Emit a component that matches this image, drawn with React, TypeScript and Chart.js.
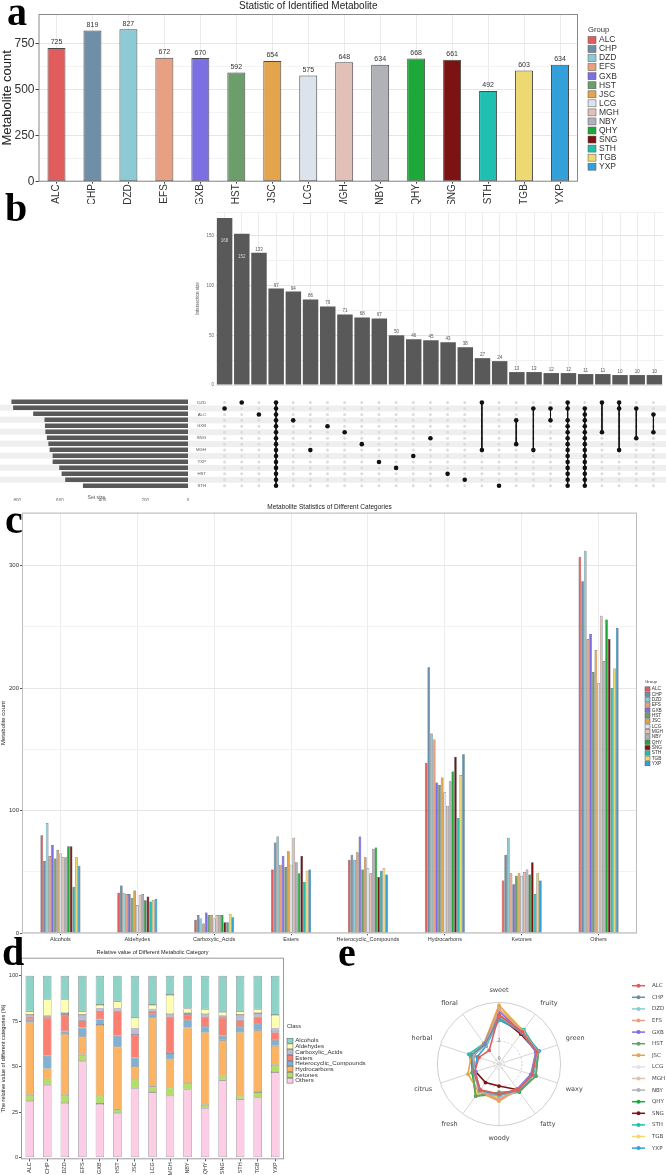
import React, { useEffect, useRef } from 'react';
import { Chart, registerables } from 'chart.js';

Chart.register(...registerables);

const SANS = "'Liberation Sans', Arial, Helvetica, sans-serif";
const DEJAVU = "'DejaVu Sans', 'Liberation Sans', sans-serif";

// ---------- panel a ----------
const groups = ['ALC', 'CHP', 'DZD', 'EFS', 'GXB', 'HST', 'JSC', 'LCG', 'MGH', 'NBY', 'QHY', 'SNG', 'STH', 'TGB', 'YXP'];
const groupColors = ['#e15d5d', '#6f8fa8', '#8ccbd6', '#e8a083', '#7b6fe3', '#6b9e6b', '#e3a44c', '#dde3ec', '#e0c0b7', '#b1b1b8', '#1fa83a', '#7d1212', '#1fc0b1', '#eed872', '#33a0da'];
const metaboliteCounts = [725, 819, 827, 672, 670, 592, 654, 575, 648, 634, 668, 661, 492, 603, 634];

// ---------- panel b ----------
const setOrder = ['DZD', 'CHP', 'ALC', 'EFS', 'GXB', 'QHY', 'SNG', 'JSC', 'MGH', 'NBY', 'YXP', 'TGB', 'HST', 'LCG', 'STH'];
const setSizes = [827, 819, 725, 672, 670, 668, 661, 654, 648, 634, 634, 603, 592, 575, 492];
const intersectionSizes = [168, 152, 133, 97, 94, 86, 79, 71, 68, 67, 50, 46, 45, 43, 38, 27, 24, 13, 13, 12, 12, 11, 11, 10, 10, 10];
const allSets = setOrder;
const intersectionMembers: string[][] = [
  ['CHP'], ['DZD'], ['ALC'], allSets, ['EFS'], ['MGH'], ['GXB'], ['QHY'], ['JSC'], ['YXP'],
  ['TGB'], ['NBY'], ['SNG'], ['HST'], ['LCG'], ['DZD', 'MGH'], ['STH'], ['EFS', 'JSC'], ['CHP', 'MGH'], ['CHP', 'EFS'],
  allSets.filter((s) => s !== 'ALC'), allSets.filter((s) => s !== 'DZD'), ['DZD', 'QHY'], ['DZD', 'CHP', 'MGH'], ['CHP', 'SNG'], ['ALC', 'QHY'],
];

// ---------- panel c ----------
const categories = ['Alcohols', 'Aldehydes', 'Carboxylic_Acids', 'Esters', 'Heterocyclic_Compounds', 'Hydrocarbons', 'Ketones', 'Others'];
const alcohols = [80, 59, 90, 63, 72, 61, 68, 65, 62, 62, 71, 71, 38, 62, 55];
const aldehydes = [33, 39, 33, 32, 32, 29, 35, 23, 31, 32, 27, 30, 26, 27, 28];
const carboxylicAcids = [11, 15, 12, 8, 17, 15, 15, 12, 15, 15, 15, 9, 9, 16, 13];
const esters = [52, 74, 79, 56, 63, 54, 67, 56, 78, 58, 49, 63, 42, 51, 52];
const heterocyclic = [60, 64, 60, 66, 79, 52, 62, 53, 49, 69, 70, 46, 51, 53, 48];
const hydrocarbons = [139, 217, 163, 158, 123, 121, 127, 115, 104, 124, 132, 144, 94, 129, 146];
const ketones = [43, 64, 78, 49, 40, 47, 49, 47, 50, 52, 48, 58, 32, 49, 43];
const others = [307, 287, 312, 240, 244, 213, 231, 204, 259, 222, 256, 240, 200, 216, 249];
const categoryCounts = [alcohols, aldehydes, carboxylicAcids, esters, heterocyclic, hydrocarbons, ketones, others];

// ---------- panel d ----------
const classNames = ['Alcohols', 'Aldehydes', 'Carboxylic_Acids', 'Esters', 'Heterocyclic_Compounds', 'Hydrocarbons', 'Ketones', 'Others'];
const classColors = ['#8dd3c7', '#ffffb3', '#bebada', '#fb8072', '#80b1d3', '#fdb462', '#b3de69', '#fccde5'];
const pctAlcohols = [19.5, 13, 13, 19.5, 16, 14, 23, 16, 10.5, 18, 18.5, 20, 19.5, 18.5, 21.5];
const pctAldehydes = [2, 9, 7.5, 2, 2, 4, 6, 2.5, 10.5, 2.5, 2.5, 2, 2, 2, 7.5];
const pctCarboxylic = [1.5, 1, 1, 3, 1.5, 1.5, 3.5, 1, 1.5, 1, 1.5, 1, 3, 2, 2];
const pctEsters = [1.5, 21, 9, 4, 4.5, 13.5, 12.5, 1.5, 20, 3, 5.5, 10, 3.5, 4, 4.5];
const pctHeterocyclic = [1, 7, 1.5, 5, 3, 6, 5, 2, 3.5, 4, 3, 2.5, 3, 3.5, 3];
const pctHydrocarbons = [40, 6, 33.5, 10, 39, 34.5, 7, 38, 15.5, 30.5, 40, 19.5, 35, 34, 10.5];
const pctKetones = [3.5, 3, 4.5, 3.5, 4.5, 2, 5, 3, 4.5, 3.5, 2, 2.5, 2, 3, 4];
const pctOthers = [31, 40, 30, 53, 29.5, 24.5, 38, 36, 34, 37.5, 27, 42.5, 32, 33, 47];
const classPercents = [pctAlcohols, pctAldehydes, pctCarboxylic, pctEsters, pctHeterocyclic, pctHydrocarbons, pctKetones, pctOthers];
const pctTicks = [0, 25, 50, 75, 100];

// ---------- panel e ----------
const aromas = ['sweet', 'fruity', 'green', 'waxy', 'fatty', 'woody', 'fresh', 'citrus', 'herbal', 'floral'];
const radarALC = [5.0, 3.9, 3.9, 3.4, 3.0, 2.8, 3.0, 2.3, 1.8, 1.3];
const radarCHP = [4.6, 3.8, 3.9, 3.3, 3.1, 2.9, 3.1, 2.4, 2.7, 2.1];
const radarDZD = [4.6, 3.9, 4.0, 3.4, 3.0, 3.0, 3.1, 2.3, 2.6, 2.0];
const radarEFS = [5.6, 4.0, 3.9, 3.3, 3.1, 3.4, 3.2, 2.4, 2.5, 2.1];
const radarGXB = [5.4, 3.8, 3.8, 3.2, 2.9, 3.0, 3.1, 2.2, 2.6, 2.2];
const radarHST = [4.9, 3.9, 4.1, 3.8, 3.2, 2.6, 3.9, 2.5, 2.4, 2.2];
const radarJSC = [6.0, 4.0, 3.9, 3.3, 3.0, 3.6, 3.3, 3.1, 2.7, 2.3];
const radarLCG = [4.8, 3.9, 3.9, 3.3, 3.0, 3.0, 3.2, 2.4, 2.5, 2.1];
const radarMGH = [5.5, 4.0, 3.9, 3.4, 3.1, 3.5, 3.2, 2.4, 2.6, 2.0];
const radarNBY = [4.9, 3.8, 3.8, 3.3, 3.0, 2.9, 3.1, 2.3, 2.5, 2.1];
const radarQHY = [4.6, 3.9, 4.1, 3.8, 3.3, 2.8, 3.9, 2.6, 2.7, 2.2];
const radarSNG = [4.8, 3.6, 3.9, 3.3, 3.0, 1.9, 2.0, 2.2, 2.6, 2.2];
const radarSTH = [4.4, 4.2, 4.0, 3.5, 3.3, 2.9, 3.1, 2.4, 3.0, 2.3];
const radarTGB = [6.1, 4.1, 3.8, 3.4, 3.1, 3.1, 3.7, 2.6, 2.6, 2.2];
const radarYXP = [4.4, 3.9, 4.2, 3.4, 3.3, 3.1, 3.3, 2.3, 2.0, 1.9];
const radarSeries = [radarALC, radarCHP, radarDZD, radarEFS, radarGXB, radarHST, radarJSC, radarLCG, radarMGH, radarNBY, radarQHY, radarSNG, radarSTH, radarTGB, radarYXP];
const radialTicks = [0, 2, 6.4];

// ---------- helpers ----------
const framePlugin = (color: string) => ({
  id: 'frame',
  afterDatasetsDraw(chart: any) {
    const { ctx, chartArea: a } = chart;
    ctx.save();
    ctx.strokeStyle = color;
    ctx.lineWidth = 1;
    ctx.strokeRect(a.left + 0.5, a.top + 0.5, a.right - a.left - 1, a.bottom - a.top - 1);
    ctx.restore();
  },
});

const bandPlugin = {
  id: 'bands',
  beforeDatasetsDraw(chart: any) {
    const { ctx } = chart;
    const ys = chart.scales.y;
    ctx.save();
    ctx.fillStyle = '#efefef';
    setOrder.forEach((_, i) => {
      if (i % 2 === 1) {
        const y = ys.getPixelForValue(i);
        ctx.fillRect(0, y - 3, chart.width, 6);
      }
    });
    ctx.restore();
  },
};

const boxLegend = (opts: { x: number; titleY: number; y0: number; pitch: number; bw: number; bh: number; font: number; title: string; items: () => { label: string; color: string }[] }) => ({
  id: 'boxLegend',
  afterDraw(chart: any) {
    const ctx = chart.ctx;
    ctx.save();
    ctx.textBaseline = 'middle';
    ctx.textAlign = 'left';
    ctx.fillStyle = '#333';
    ctx.font = `${opts.font * 0.9}px ${SANS}`;
    ctx.fillText(opts.title, opts.x, opts.titleY);
    ctx.font = `${opts.font}px ${SANS}`;
    opts.items().forEach((it, i) => {
      const y = opts.y0 + i * opts.pitch;
      ctx.fillStyle = it.color;
      ctx.fillRect(opts.x, y - opts.bh / 2, opts.bw, opts.bh);
      ctx.strokeStyle = '#555';
      ctx.lineWidth = 0.5;
      ctx.strokeRect(opts.x, y - opts.bh / 2, opts.bw, opts.bh);
      ctx.fillStyle = '#333';
      ctx.fillText(it.label, opts.x + opts.bw + opts.font * 0.35, y);
    });
    ctx.restore();
  },
});

function CanvasChart(props: { left: number; top: number; width: number; height: number; build: () => any }) {
  const ref = useRef<HTMLCanvasElement | null>(null);
  useEffect(() => {
    const chart = new Chart(ref.current as HTMLCanvasElement, props.build());
    return () => chart.destroy();
  }, []);
  const { left, top, width, height } = props;
  return <canvas ref={ref} width={width} height={height} style={{ position: 'absolute', left, top, width, height }} />;
}

// ---------- chart builders ----------
const buildA = () => ({
  type: 'bar',
  data: {
    labels: groups,
    datasets: [{ data: metaboliteCounts, backgroundColor: groupColors, borderColor: '#4a4a4a', borderWidth: 1, borderSkipped: false, barPercentage: 0.5, categoryPercentage: 1 }],
  },
  options: {
    responsive: false, animation: false, devicePixelRatio: 1,
    layout: { padding: { left: 0, right: 88, top: 0, bottom: 0 } },
    plugins: {
      legend: { display: false }, tooltip: { enabled: false },
      title: { display: true, fullSize: false, text: 'Statistic of Identified Metabolite', color: '#222', font: { family: SANS, size: 10, weight: 'normal', lineHeight: 1.2 }, padding: { top: 0, bottom: 2 } },
    },
    scales: {
      x: {
        grid: { color: '#ebebeb', offset: false, tickColor: '#444', tickLength: 2 },
        border: { display: false },
        ticks: { minRotation: 90, maxRotation: 90, autoSkip: false, font: { family: SANS, size: 10 }, color: '#333', padding: 0.5 },
        afterFit: (s: any) => { s.height = 22.3; },
      },
      y: {
        min: 0, max: 909,
        grid: { color: (c: any) => (c.tick && c.tick.value % 250 === 0 ? '#e6e6e6' : '#f3f3f3'), tickColor: (c: any) => (c.tick && c.tick.value % 250 === 0 ? '#444' : 'rgba(0,0,0,0)'), tickLength: 3 },
        border: { display: false },
        ticks: { stepSize: 125, callback: (v: any) => (v % 250 === 0 ? String(v) : ''), font: { family: SANS, size: 12 }, color: '#333', padding: 1 },
        title: { display: true, text: 'Metabolite count', font: { family: SANS, size: 13 }, color: '#222', padding: 0 },
        afterFit: (s: any) => { s.width = 38.5; },
      },
    },
  },
  plugins: [
    framePlugin('#8a8a8a'),
    {
      id: 'valLabels',
      afterDatasetsDraw(chart: any) {
        const ctx = chart.ctx;
        const meta = chart.getDatasetMeta(0);
        ctx.save();
        ctx.font = `7px ${SANS}`;
        ctx.fillStyle = '#333';
        ctx.textAlign = 'center';
        ctx.textBaseline = 'bottom';
        meta.data.forEach((el: any, i: number) => ctx.fillText(String(chart.data.datasets[0].data[i]), el.x, el.y - 2));
        ctx.restore();
      },
    },
    boxLegend({ x: 588, titleY: 30, y0: 40, pitch: 9.05, bw: 8, bh: 7, font: 8.5, title: 'Group', items: () => groups.map((g, i) => ({ label: g, color: groupColors[i] })) }),
  ],
});

const buildB1 = () => ({
  type: 'bar',
  data: {
    labels: intersectionSizes.map((_, i) => String(i + 1)),
    datasets: [{ data: intersectionSizes, backgroundColor: '#595959', barPercentage: 0.9, categoryPercentage: 1 }],
  },
  options: {
    responsive: false, animation: false, devicePixelRatio: 1,
    layout: { padding: { left: 0, right: 3, top: 12, bottom: 0 } },
    plugins: { legend: { display: false }, tooltip: { enabled: false } },
    scales: {
      x: {
        grid: { color: '#ececec', offset: false, drawTicks: false },
        border: { display: false },
        ticks: { display: false },
        afterFit: (s: any) => { s.height = 10; },
      },
      y: {
        min: 0, max: 174,
        grid: { color: (c: any) => (c.tick && c.tick.value % 50 === 0 ? '#e3e3e3' : '#f1f1f1'), drawTicks: false },
        border: { display: false },
        ticks: { stepSize: 25, callback: (v: any) => (v % 50 === 0 ? String(v) : ''), font: { family: SANS, size: 4.5 }, color: '#666', padding: 2 },
        title: { display: true, text: 'Intersection size', font: { family: SANS, size: 4.5 }, color: '#555', padding: 0 },
        afterFit: (s: any) => { s.width = 21; },
      },
    },
  },
  plugins: [
    {
      id: 'interLabels',
      afterDatasetsDraw(chart: any) {
        const ctx = chart.ctx;
        const meta = chart.getDatasetMeta(0);
        ctx.save();
        ctx.font = `4.5px ${SANS}`;
        ctx.textAlign = 'center';
        meta.data.forEach((el: any, i: number) => {
          const v = intersectionSizes[i];
          if (v > 140) {
            ctx.fillStyle = '#d5d5d5';
            ctx.textBaseline = 'top';
            ctx.fillText(String(v), el.x, el.y + 21);
          } else {
            ctx.fillStyle = '#555';
            ctx.textBaseline = 'bottom';
            ctx.fillText(String(v), el.x, el.y - 1);
          }
        });
        ctx.restore();
      },
    },
  ],
});

const buildB2 = () => {
  const memberRows = intersectionMembers.map((m) => m.map((n) => setOrder.indexOf(n)).sort((a, b) => a - b));
  const grey: { x: number; y: number }[] = [];
  memberRows.forEach((rows, c) => {
    setOrder.forEach((_, r) => {
      if (rows.indexOf(r) < 0) grey.push({ x: c, y: r });
    });
  });
  const datasets: any[] = memberRows.map((rows, c) => ({
    data: rows.map((r) => ({ x: c, y: r })),
    showLine: true, borderColor: '#111', borderWidth: 1,
    pointRadius: 2.3, pointBackgroundColor: '#111', pointBorderWidth: 0,
  }));
  datasets.push({ data: grey, showLine: false, pointRadius: 1.5, pointBackgroundColor: '#dcdcdc', pointBorderWidth: 0 });
  return {
    type: 'scatter',
    data: { datasets },
    options: {
      responsive: false, animation: false, devicePixelRatio: 1,
      layout: { padding: { left: 0, right: 3, top: 3.7, bottom: 6.3 } },
      plugins: { legend: { display: false }, tooltip: { enabled: false } },
      scales: {
        x: { type: 'linear', min: -0.5, max: intersectionSizes.length - 0.5, display: false },
        y: {
          type: 'linear', min: -0.5, max: setOrder.length - 0.5, reverse: true,
          afterBuildTicks: (s: any) => { s.ticks = setOrder.map((_, i) => ({ value: i })); },
          ticks: { autoSkip: false, callback: (v: any) => setOrder[v] ?? '', font: { family: SANS, size: 4.3 }, color: '#555', padding: 2 },
          grid: { display: false }, border: { display: false },
          afterFit: (s: any) => { s.width = 21; },
        },
      },
    },
    plugins: [bandPlugin],
  };
};

const buildB3 = () => ({
  type: 'bar',
  data: { labels: setOrder, datasets: [{ data: setSizes, backgroundColor: '#595959', barPercentage: 0.75, categoryPercentage: 1 }] },
  options: {
    responsive: false, animation: false, devicePixelRatio: 1, indexAxis: 'y',
    layout: { padding: { left: 5, right: 12, top: 3.7, bottom: 0 } },
    plugins: { legend: { display: false }, tooltip: { enabled: false } },
    scales: {
      x: {
        reverse: true, min: 0, max: 857,
        grid: { display: false }, border: { display: false },
        ticks: { stepSize: 200, callback: (v: any) => (v % 200 === 0 ? String(v) : ''), font: { family: SANS, size: 4.5 }, color: '#666', padding: 1 },
        title: { display: true, text: 'Set size', font: { family: SANS, size: 5 }, color: '#555', padding: { top: 1, bottom: 0 } },
        afterFit: (s: any) => { s.height = 12.3; },
      },
      y: { display: false },
    },
  },
  plugins: [bandPlugin],
});

const buildC = () => ({
  type: 'bar',
  data: {
    labels: categories,
    datasets: groups.map((g, gi) => ({
      label: g,
      data: categoryCounts.map((arr) => arr[gi]),
      backgroundColor: groupColors[gi],
      borderColor: '#3a3a3a', borderWidth: 0.5, borderSkipped: false,
      barPercentage: 1, categoryPercentage: 0.52,
    })),
  },
  options: {
    responsive: false, animation: false, devicePixelRatio: 1,
    layout: { padding: { left: 0, right: 29, top: 0, bottom: 0 } },
    plugins: {
      legend: { display: false }, tooltip: { enabled: false },
      title: { display: true, fullSize: false, text: 'Metabolite Statistics of Different Categories', color: '#222', font: { family: SANS, size: 6.5, weight: 'normal', lineHeight: 1.2 }, padding: { top: 3, bottom: 1.9 } },
    },
    scales: {
      x: {
        grid: { color: '#ececec', offset: false, tickColor: '#555', tickLength: 2 },
        border: { display: false },
        ticks: { autoSkip: false, maxRotation: 0, font: { family: SANS, size: 5.5 }, color: '#333', padding: 1 },
        afterFit: (s: any) => { s.height = 10.7; },
      },
      y: {
        min: 0, max: 343,
        grid: { color: (c: any) => (c.tick && c.tick.value % 100 === 0 ? '#e6e6e6' : '#f3f3f3'), tickColor: (c: any) => (c.tick && c.tick.value % 100 === 0 ? '#555' : 'rgba(0,0,0,0)'), tickLength: 2 },
        border: { display: false },
        ticks: { stepSize: 50, callback: (v: any) => (v % 100 === 0 ? String(v) : ''), font: { family: SANS, size: 6 }, color: '#333', padding: 1 },
        title: { display: true, text: 'Metabolite count', font: { family: SANS, size: 6 }, color: '#222', padding: 0 },
        afterFit: (s: any) => { s.width = 22; },
      },
    },
  },
  plugins: [
    framePlugin('#bdbdbd'),
    boxLegend({ x: 645, titleY: 181.7, y0: 189, pitch: 5.33, bw: 5, bh: 4.4, font: 4.8, title: 'Group', items: () => groups.map((g, i) => ({ label: g, color: groupColors[i] })) }),
  ],
});

const buildD = () => {
  const stackOrder = [7, 6, 5, 4, 3, 2, 1, 0];
  return {
    type: 'bar',
    data: {
      labels: groups,
      datasets: stackOrder.map((k) => ({
        label: classNames[k],
        data: classPercents[k],
        backgroundColor: classColors[k],
        borderColor: '#6e6e6e', borderWidth: 0.6, borderSkipped: false,
        barPercentage: 0.48, categoryPercentage: 1,
      })),
    },
    options: {
      responsive: false, animation: false, devicePixelRatio: 1,
      layout: { padding: { left: 0, right: 96, top: 0, bottom: 0 } },
      plugins: {
        legend: { display: false }, tooltip: { enabled: false },
        title: { display: true, fullSize: false, text: 'Relative value of Different Metabolic Category', color: '#222', font: { family: SANS, size: 5.5, weight: 'normal', lineHeight: 1.2 }, padding: { top: 5.4, bottom: 1.7 } },
      },
      scales: {
        x: {
          stacked: true,
          grid: { display: true, color: 'rgba(0,0,0,0)', offset: false, tickColor: '#555', tickLength: 2 },
          border: { display: false },
          ticks: { minRotation: 90, maxRotation: 90, autoSkip: false, font: { family: SANS, size: 5.5 }, color: '#333', padding: 1 },
          afterFit: (s: any) => { s.height = 15.7; },
        },
        y: {
          stacked: true, min: -1, max: 110,
          afterBuildTicks: (s: any) => { s.ticks = pctTicks.map((v) => ({ value: v })); },
          grid: { color: 'rgba(0,0,0,0)', tickColor: '#555', tickLength: 2 },
          border: { display: false },
          ticks: { font: { family: SANS, size: 5.5 }, color: '#333', padding: 1 },
          title: { display: true, text: 'The relative value of different categories (%)', font: { family: SANS, size: 5.5 }, color: '#222', padding: 0 },
          afterFit: (s: any) => { s.width = 21; },
        },
      },
    },
    plugins: [
      framePlugin('#9a9a9a'),
      boxLegend({ x: 287, titleY: 82, y0: 96.7, pitch: 5.7, bw: 6, bh: 5, font: 6.2, title: 'Class', items: () => classNames.map((c, i) => ({ label: c, color: classColors[i] })) }),
    ],
  };
};

const buildE = () => ({
  type: 'radar',
  data: {
    labels: aromas,
    datasets: radarSeries.map((d, i) => ({
      label: groups[i], data: d,
      borderColor: groupColors[i], backgroundColor: groupColors[i], pointBackgroundColor: groupColors[i],
      borderWidth: 1.6, pointRadius: 1.9, pointBorderWidth: 0, fill: false, tension: 0,
    })),
  },
  options: {
    responsive: false, animation: false, devicePixelRatio: 1,
    layout: { padding: { left: 28, right: 78, top: 12, bottom: 32 } },
    plugins: { legend: { display: false }, tooltip: { enabled: false } },
    scales: {
      r: {
        min: -0.6, max: 6.4,
        afterBuildTicks: (s: any) => { s.ticks = radialTicks.map((v) => ({ value: v })); },
        ticks: { showLabelBackdrop: false, font: { family: DEJAVU, size: 5 }, color: '#777', callback: (v: any) => (v === 0 || v === 2 ? String(v) : '') },
        grid: { circular: true, color: '#cfcfcf', lineWidth: 1 },
        border: { dash: (c: any) => (c.tick && c.tick.value < 6 ? [2, 2] : []) },
        angleLines: { color: '#d6d6d6', lineWidth: 1 },
        pointLabels: { font: { family: DEJAVU, size: 6.5 }, color: '#444', padding: 4 },
      },
    },
  },
  plugins: [
    {
      id: 'lineLegend',
      afterDraw(chart: any) {
        const ctx = chart.ctx;
        ctx.save();
        ctx.font = `5.5px ${DEJAVU}`;
        ctx.textBaseline = 'middle';
        ctx.textAlign = 'left';
        chart.data.datasets.forEach((ds: any, i: number) => {
          const y = 10.7 + i * 11.6;
          ctx.strokeStyle = ds.borderColor;
          ctx.lineWidth = 1.5;
          ctx.beginPath();
          ctx.moveTo(252, y);
          ctx.lineTo(265, y);
          ctx.stroke();
          ctx.fillStyle = ds.borderColor;
          ctx.beginPath();
          ctx.arc(258.5, y, 2, 0, Math.PI * 2);
          ctx.fill();
          ctx.fillStyle = '#444';
          ctx.fillText(ds.label, 272, y);
        });
        ctx.restore();
      },
    },
  ],
});

const letter = (ch: string, left: number, top: number) => (
  <div style={{ position: 'absolute', left, top, fontFamily: "'Liberation Serif', 'Times New Roman', serif", fontWeight: 'bold', fontSize: 40, lineHeight: '40px', color: '#000' }}>{ch}</div>
);

export default function App() {
  useEffect(() => {
    document.body.style.margin = '0';
  }, []);
  return (
    <div style={{ position: 'absolute', left: 0, top: 0, width: 666, height: 1175, background: '#fff', overflow: 'hidden' }}>
      <CanvasChart left={0} top={0} width={666} height={204} build={buildA} />
      <CanvasChart left={195} top={200} width={471} height={195} build={buildB1} />
      <CanvasChart left={195} top={395} width={471} height={100} build={buildB2} />
      <CanvasChart left={0} top={395} width={200} height={106} build={buildB3} />
      <CanvasChart left={0} top={500} width={666} height={444} build={buildC} />
      <CanvasChart left={0} top={944} width={380} height={231} build={buildD} />
      <CanvasChart left={380} top={975} width={286} height={200} build={buildE} />
      {letter('a', 7, -8.5)}
      {letter('b', 5, 187.5)}
      {letter('c', 5, 500)}
      {letter('d', 2, 931.5)}
      {letter('e', 338, 933)}
    </div>
  );
}
